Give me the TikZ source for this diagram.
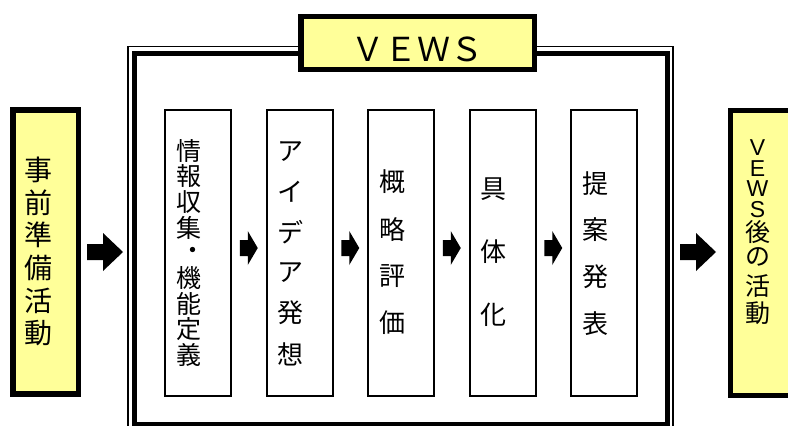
\documentclass[tikz,border=0pt]{standalone}
\usepackage{fontspec}
\setmainfont{Noto Sans CJK JP}
\newfontfamily\latinsans{Liberation Sans}
\usetikzlibrary{calc}
\definecolor{paleyellow}{HTML}{FFFF99}
\newcommand\myblockarrow[5]{% center, half length, head length, half head width, half shaft width
  \fill[black,shift={(#1)}] (-#2,-#5) -- (#2-#3,-#5) -- (#2-#3,-#4) -- (#2,0)
    -- (#2-#3,#4) -- (#2-#3,#5) -- (-#2,#5) -- cycle;}
\begin{document}
\begin{tikzpicture}[x=1pt,y=-1pt,
  yellowbox/.style={draw=black, fill=paleyellow, line width=5.5pt, inner sep=0pt},
  stepbox/.style={draw=black, fill=white, line width=2pt, inner sep=0pt,
    minimum width=66pt, minimum height=286pt},
  framethick/.style={draw=black, line width=5pt, inner sep=0pt},
  framethin/.style={draw=black, line width=1.5pt, inner sep=0pt},
  jp/.style={inner sep=0pt, font=\fontsize{26}{26}\selectfont},
  jpsmall/.style={inner sep=0pt, font=\fontsize{25}{25}\selectfont},
  jpbig/.style={inner sep=0pt, font=\fontsize{28}{28}\selectfont},
  lat/.style={inner sep=0pt, align=center, font=\latinsans\fontsize{23}{20.6}\selectfont},
  title/.style={inner sep=0pt, font=\fontsize{33}{33}\selectfont}]
\useasboundingbox (0,0) rectangle (788,426);
\begin{scope}
\clip (0,0) rectangle (788,426);
% double frame around the VEWS steps
\node[framethin, minimum width=545pt, minimum height=400pt] (frameout) at (400.5,246.7) {};
\node[framethick, minimum width=533.5pt, minimum height=371.5pt] (frame) at (400.75,238.75) {};
% title box
\node[yellowbox, minimum width=233.5pt, minimum height=53pt] (titlebox) at (417.75,43) {};
\node[title] (titletext) at (417,49.5) {ＶＥＷＳ};
% left and right boxes
\node[yellowbox, minimum width=65.5pt, minimum height=284pt] (pre) at (45.75,252) {};
\node[yellowbox, minimum width=79.5pt, minimum height=285pt] (post) at (770.25,253) {};
% step boxes
\node[stepbox] (b1) at (198,252.5) {};
\node[stepbox] (b2) at (299.5,252.5) {};
\node[stepbox] (b3) at (401,252.5) {};
\node[stepbox] (b4) at (502.5,252.5) {};
\node[stepbox] (b5) at (604,252.5) {};
% texts
\foreach \c/\yy [count=\i] in {事/170, 前/202.6, 準/235.2, 備/267.8, 活/300.4, 動/333}
  {\node[jpbig] (tp-\i) at (38,\yy) {\c};}
\foreach \c/\yy [count=\i] in {情/151, 報/176.5, 収/202, 集/227.5, 機/278.5, 能/304, 定/329.5, 義/355}
  {\node[jpsmall] (t1-\i) at (188.5,\yy) {\c};}
\node[jpsmall] (t1-dot) at (193,253) {・};
\foreach \c/\yy [count=\i] in {ア/152, イ/192, デ/232, ア/273, 発/313, 想/354}
  {\node[jp] (t2-\i) at (290.5,\yy) {\c};}
\foreach \c/\yy [count=\i] in {概/182, 略/229, 評/276, 価/323}
  {\node[jp] (t3-\i) at (392,\yy) {\c};}
\foreach \c/\yy [count=\i] in {具/189, 体/252, 化/314.5}
  {\node[jp] (t4-\i) at (493.5,\yy) {\c};}
\foreach \c/\yy [count=\i] in {提/184, 案/230, 発/277, 表/324}
  {\node[jp] (t5-\i) at (595.5,\yy) {\c};}
\node[lat] (tl) at (757.5,178.5) {V\\E\\W\\S};
\foreach \c/\yy [count=\i] in {後/232, の/257, 活/286.5, 動/313.5}
  {\node[jpsmall] (tq-\i) at (757.5,\yy) {\c};}
% block arrows
\coordinate (a0) at (105,252);
\coordinate (a1) at ($(b1.east)!0.5!(b2.west)+(0,-4.5)$);
\coordinate (a2) at ($(b2.east)!0.5!(b3.west)+(0,-4.5)$);
\coordinate (a3) at ($(b3.east)!0.5!(b4.west)+(0,-4.5)$);
\coordinate (a4) at ($(b4.east)!0.5!(b5.west)+(0,-4.5)$);
\coordinate (a5) at (698,252);
\myblockarrow{a0}{18}{20}{19}{8}
\myblockarrow{a5}{18}{20}{19}{8}
\myblockarrow{a1}{9}{10}{17}{8}
\myblockarrow{a2}{9}{10}{17}{8}
\myblockarrow{a3}{9}{10}{17}{8}
\myblockarrow{a4}{9}{10}{17}{8}
\end{scope}
\end{tikzpicture}
\end{document}
